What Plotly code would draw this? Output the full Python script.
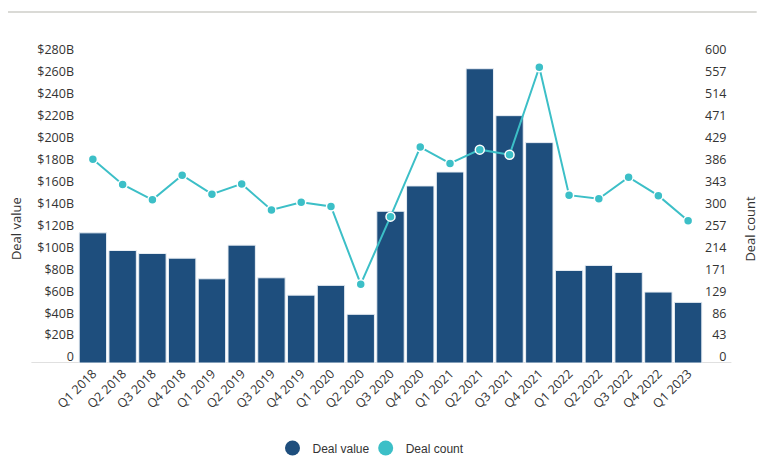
import plotly.graph_objects as go

quarters = ["Q1 2018", "Q2 2018", "Q3 2018", "Q4 2018",
            "Q1 2019", "Q2 2019", "Q3 2019", "Q4 2019",
            "Q1 2020", "Q2 2020", "Q3 2020", "Q4 2020",
            "Q1 2021", "Q2 2021", "Q3 2021", "Q4 2021",
            "Q1 2022", "Q2 2022", "Q3 2022", "Q4 2022",
            "Q1 2023"]
deal_value_b = [118.7, 102.6, 99.9, 95.6,
                76.8, 107.5, 77.7, 61.9,
                70.8, 44.4, 138.4, 161.5,
                174.2, 268.4, 225.6, 201.0,
                84.4, 89.0, 82.6, 64.7,
                55.3]
deal_count = [398, 349, 319, 367,
              330, 350, 299, 314,
              306, 154, 286, 422,
              390, 417, 407, 578,
              328, 321, 363, 327,
              278]

left_tickvals = [20 * i for i in range(15)]
left_ticktext = ["0"] + [f"${v}B" for v in left_tickvals[1:]]
right_tickvals = [600 * i / 14 for i in range(15)]
right_ticktext = [str(round(v)) for v in right_tickvals]
# pad with figure spaces so labels appear right-aligned
right_ticktext = ["\u2007" * (3 - len(t)) + t for t in right_ticktext]

BAR = "#1e4e7d"
CYAN = "#3cbfc7"
TXT = "#333333"
TICKFONT = dict(family="Open Sans", size=12.5, color=TXT)
LEGFONT = dict(family="Liberation Sans", size=12, color=TXT)

fig = go.Figure()
fig.add_trace(go.Bar(
    x=quarters, y=deal_value_b, name="Deal value",
    marker=dict(color=BAR, line=dict(color="#e8eef4", width=1)),
    showlegend=False, yaxis="y",
))
fig.add_trace(go.Scatter(
    x=quarters, y=deal_count, name="Deal count", mode="lines+markers",
    line=dict(color=CYAN, width=2),
    marker=dict(size=9, color=CYAN, line=dict(color="white", width=1.5)),
    showlegend=False, yaxis="y2",
))
# legend entries with circular symbols
fig.add_trace(go.Scatter(x=[None], y=[None], mode="markers", name="Deal value",
                         marker=dict(size=15, color=BAR), showlegend=True,
                         legend="legend"))
fig.add_trace(go.Scatter(x=[None], y=[None], mode="markers", name="Deal count",
                         marker=dict(size=15, color=CYAN), showlegend=True,
                         legend="legend2"))

fig.update_layout(
    width=760, height=468,
    margin=dict(l=70, r=65, t=48, b=113, autoexpand=False),
    paper_bgcolor="white", plot_bgcolor="white",
    bargap=0.08,
    xaxis=dict(type="category", range=[-0.5, 20.5], tickangle=-45, showgrid=False,
               showline=False, zeroline=False, tickfont=TICKFONT, ticks="",
               automargin=False),
    yaxis=dict(range=[0, 280], tickvals=left_tickvals, ticktext=left_ticktext,
               showgrid=False, zeroline=False, showline=False, ticks="",
               tickfont=TICKFONT, ticklabelshift=-6, ticklabelstandoff=3,
               automargin=False),
    yaxis2=dict(range=[0, 600], tickvals=right_tickvals, ticktext=right_ticktext,
                overlaying="y", side="right", showgrid=False, zeroline=False,
                showline=False, ticks="", tickfont=TICKFONT, ticklabelshift=-6,
                ticklabelstandoff=1, automargin=False),
    legend=dict(orientation="h", x=0.3112, xanchor="left", y=-0.277,
                yanchor="middle", font=LEGFONT, itemsizing="trace",
                bgcolor="rgba(0,0,0,0)"),
    legend2=dict(orientation="h", x=0.4603, xanchor="left", y=-0.277,
                 yanchor="middle", font=LEGFONT, itemsizing="trace",
                 bgcolor="rgba(0,0,0,0)"),
    annotations=[
        dict(text="Deal value", x=-0.099, y=0.4365, xref="paper", yref="paper",
             textangle=-90, showarrow=False, xanchor="center", yanchor="middle",
             font=dict(family="Open Sans", size=13, color=TXT)),
        dict(text="Deal count", x=1.0746, y=0.4365, xref="paper", yref="paper",
             textangle=-90, showarrow=False, xanchor="center", yanchor="middle",
             font=dict(family="Open Sans", size=13, color=TXT)),
    ],
    shapes=[
        dict(type="line", xref="paper", yref="y", x0=-0.0746, x1=1.0454, y0=0, y1=0,
             line=dict(color="#e0e0e0", width=2), layer="below"),
        dict(type="line", xref="paper", yref="paper", x0=-0.1135, x1=1.0859,
             y0=1.1433, y1=1.1433, line=dict(color="#dadad6", width=2)),
    ],
)

fig.write_html("out.html")
